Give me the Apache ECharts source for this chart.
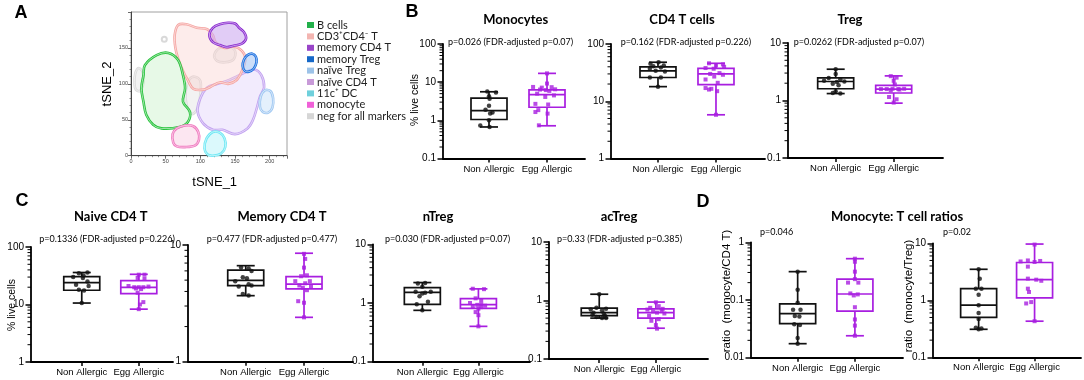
<!DOCTYPE html>
<html><head><meta charset="utf-8">
<script src="https://cdn.jsdelivr.net/npm/echarts@6/dist/echarts.min.js"></script>
<style>html,body{margin:0;padding:0;background:#fff}#c{width:1084px;height:380px}</style>
</head><body><div id="c"></div>
<script>
// ---------- DATA ----------
const GROUPS = ['Non Allergic', 'Egg Allergic'];
const LEGEND_NAMES = ['B cells','CD3⁺CD4⁻ T','memory CD4 T','memory Treg','naïve Treg','naïve CD4 T','11c⁺ DC','monocyte','neg for all markers'];
const PANEL_LETTERS = ['A','B','C','D'];
const PANEL_TITLES = ['Monocytes','CD4 T cells','Treg','Naive CD4 T','Memory CD4 T','nTreg','acTreg','Monocyte: T cell ratios'];
const P_VALUES = ['p=0.026 (FDR-adjusted p=0.07)','p=0.162 (FDR-adjusted p=0.226)','p=0.0262 (FDR-adjusted p=0.07)',
  'p=0.1336 (FDR-adjusted p=0.226)','p=0.477 (FDR-adjusted p=0.477)','p=0.030 (FDR-adjusted p=0.07)','p=0.33 (FDR-adjusted p=0.385)',
  'p=0.046','p=0.02'];
const Y_NAMES = ['% live cells','% live cells','ratio  (monocyte/CD4 T)','ratio  (monocyte/Treg)'];
const TSNE_NAMES = ['tSNE_1','tSNE_2'];

// tSNE cluster outlines (tSNE_1, tSNE_2)
const OUTLINE_NEG1 = [[5,100],[6,114],[11,122],[17,116],[18,102],[13,90],[7,92]];
const OUTLINE_NEG2 = [[80,72],[79,90],[84,106],[92,110],[100,104],[100,85],[96,66],[88,58]];
const OUTLINE_NEG3 = [[120,140],[128,150],[140,152],[150,146],[148,134],[136,130],[124,132]];
const NEG_DOT = [[48,162]];
const OUTLINE_NCD4 = [[96,62],[100,80],[110,95],[125,100],[138,104],[152,110],[165,116],[178,120],[188,112],[192,95],[186,82],[182,68],[176,50],[168,38],[150,30],[132,36],[118,36],[104,45]];
const OUTLINE_CD3 = [[63,168],[68,182],[80,183],[95,178],[110,176],[118,168],[122,158],[135,150],[148,152],[160,146],[165,135],[160,118],[152,105],[140,100],[128,102],[115,96],[105,92],[90,93],[82,105],[75,118],[68,135],[64,150]];
const OUTLINE_B = [[20,126],[37,140],[54,143],[68,133],[75,112],[78,94],[75,75],[85,61],[82,47],[70,40],[44,38],[32,43],[22,57],[18,75],[15,94],[18,112]];
const OUTLINE_MONO = [[61,18],[60,30],[66,38],[78,42],[90,41],[97,33],[98,22],[92,14],[78,12],[66,13]];
const OUTLINE_DC = [[106,10],[109,24],[118,33],[128,32],[135,24],[136,12],[130,3],[118,0],[110,2]];
const OUTLINE_MCD4 = [[113,168],[118,178],[128,183],[140,185],[150,184],[156,178],[163,172],[166,163],[160,156],[148,153],[138,151],[128,154],[118,158]];
const OUTLINE_MTREG = [[161,125],[163,134],[168,140],[175,142],[180,138],[181,130],[177,121],[170,117],[164,118]];
const OUTLINE_NTREG = [[186,68],[187,82],[193,91],[201,90],[205,80],[204,67],[198,60],[190,61]];
const CLUSTER_PCT = ['26.9','22.8','5.04','1.1','28.8','1.9','6.18','2.53'];
const CLUSTER_PCT_POS = [[51,84],[101,124],[162,177],[187,145],[144,64],[195,72],[80,20],[120,10]];

// box summaries [min, q1, median, q3, max] : [Non Allergic, Egg Allergic]
const MONO_BOX = [[0.67,1.05,1.8,3.8,5.6],[0.72,2.2,4.7,6.3,17]];
const CD4_BOX = [[18,26,34,40,48],[5.8,19.5,30,37.5,46]];
const TREG_BOX = [[1.32,1.6,2.14,2.48,3.5],[0.9,1.35,1.58,1.83,2.68]];
const NAIVE_BOX = [[10.6,17.7,24,30.5,36],[8.3,15.5,19.8,26,33.5]];
const MEM_BOX = [[3.68,4.48,4.98,6.1,6.65],[2.4,4.2,4.63,5.35,8.5]];
const NTREG_BOX = [[0.75,0.95,1.52,1.83,2.23],[0.4,0.81,0.94,1.19,1.74]];
const ACTREG_BOX = [[0.5,0.55,0.62,0.74,1.28],[0.336,0.5,0.62,0.72,0.94]];
const RCD4_BOX = [[0.0175,0.039,0.058,0.086,0.31],[0.024,0.064,0.127,0.23,0.52]];
const RTREG_BOX = [[0.31,0.5,0.82,1.6,3.5],[0.43,1.1,2.3,4.6,9.7]];

// individual points [jitter offset, value]
const MONO_NA = [[-0.03,5.7],[0.12,5.4],[0,4.3],[0.01,3.7],[0,2.4],[-0.06,1.9],[0.06,1.6],[0.02,1.5],[0,1.0],[-0.15,0.73],[0.01,0.67]];
const MONO_EA = [[0,17],[0,9.2],[-0.24,7.5],[-0.09,7.2],[0.08,7.4],[0.14,6.5],[-0.12,6.4],[-0.02,6.2],[0.04,5.9],[-0.17,5.0],[0.12,4.5],[-0.03,4.1],[-0.2,2.7],[0.02,2.6],[-0.15,1.85],[-0.2,1.65],[0.01,1.5],[-0.14,0.74]];
const CD4_NA = [[0.01,48],[-0.13,45],[-0.08,41],[0.1,42],[0.05,39],[-0.14,37],[-0.04,34],[0.12,33],[-0.14,26],[0.05,26],[0,18]];
const CD4_EA = [[-0.12,46],[0.12,44],[0,42],[0.14,40],[-0.18,38],[-0.04,37],[0.06,31],[-0.1,30],[0.12,29],[-0.03,27],[-0.18,24],[0.03,21],[-0.18,17],[-0.08,16.5],[-0.12,16],[0.02,15],[0,5.8]];
const TREG_NA = [[0,3.5],[0,2.9],[-0.12,2.45],[0.08,2.35],[-0.2,2.2],[0.15,2.15],[0.02,2.1],[-0.05,1.95],[0.05,1.85],[0,1.45],[-0.05,1.35],[0.08,1.33]];
const TREG_EA = [[-0.05,2.65],[0.05,2.5],[0,2.2],[0.02,1.9],[-0.22,1.58],[-0.12,1.58],[-0.02,1.6],[0.08,1.58],[0.18,1.6],[-0.05,1.5],[0.1,1.55],[-0.08,1.15],[0.05,1.05],[0,0.92]];
const NAIVE_NA = [[-0.05,35],[0.1,36],[0.03,32],[-0.15,30],[0.02,29],[0.1,25],[-0.1,22],[0.12,21],[-0.05,18],[0.04,17.5],[0,10.6]];
const NAIVE_EA = [[0,33],[0.1,33],[-0.02,29],[0.1,28],[-0.18,21],[-0.08,20],[0,20],[0.08,20],[0.17,20.5],[-0.05,19],[0.04,18.5],[-0.02,16],[0.08,11],[0.02,10],[0,8.3]];
const MEM_NA = [[-0.08,6.4],[0.05,6.3],[0.1,6.0],[-0.05,5.3],[0.02,5.2],[-0.18,4.9],[0.05,4.6],[0.1,4.5],[-0.12,4.4],[-0.05,3.8],[0.05,3.7]];
const MEM_EA = [[0,8.4],[0.02,7.6],[0,6.4],[-0.05,5.4],[0.05,5.5],[-0.15,4.9],[0.1,4.9],[0.02,4.7],[-0.08,4.5],[0.12,4.4],[-0.02,4.3],[0.05,4.1],[-0.1,3.3],[0,3.2],[0,2.4]];
const NTREG_NA = [[0.05,2.2],[-0.08,2.15],[0,1.9],[-0.12,1.55],[0.05,1.5],[0.15,1.55],[0,1.45],[-0.05,1.3],[0.1,1.05],[-0.1,0.95],[0,0.75]];
const NTREG_EA = [[-0.1,1.75],[0.1,1.72],[-0.05,1.2],[0.05,1.1],[-0.15,1.0],[0.05,0.95],[-0.02,0.93],[0.12,0.9],[-0.1,0.88],[0.05,0.85],[0,0.8],[-0.05,0.7],[0,0.62],[0,0.4]];
const ACTREG_NA = [[0,1.28],[-0.05,0.75],[0.12,0.72],[-0.15,0.7],[0.05,0.68],[-0.1,0.62],[0.08,0.6],[-0.12,0.57],[0.1,0.55],[-0.05,0.52],[0.05,0.5],[0.12,0.5]];
const ACTREG_EA = [[0,0.93],[0.05,0.8],[-0.1,0.75],[0.12,0.72],[-0.15,0.7],[0.1,0.68],[-0.05,0.65],[0.02,0.62],[0.15,0.6],[-0.12,0.55],[0.05,0.48],[-0.08,0.45],[0,0.38],[0.02,0.33]];
const RCD4_NA = [[0,0.31],[0,0.15],[0,0.09],[-0.08,0.068],[0.05,0.068],[-0.05,0.053],[0.03,0.052],[-0.06,0.038],[0.04,0.037],[0,0.022],[0,0.0175]];
const RCD4_EA = [[0,0.52],[0,0.46],[0,0.31],[0,0.23],[-0.12,0.2],[0.06,0.2],[-0.08,0.13],[0.05,0.125],[-0.02,0.12],[0,0.075],[0,0.046],[0,0.036],[0,0.024]];
const RTREG_NA = [[0,3.5],[0.02,2.4],[-0.05,1.6],[0.05,1.6],[0,1.25],[0,0.82],[0,0.6],[0,0.47],[-0.05,0.33],[0.05,0.32],[0,0.31]];
const RTREG_EA = [[0,9.5],[-0.25,4.8],[-0.12,5.0],[0,4.7],[0.1,4.9],[-0.12,3.9],[-0.12,2.4],[0.03,2.3],[0.12,2.2],[-0.12,1.6],[-0.1,1.4],[-0.15,0.88],[-0.06,0.93],[0,0.43]];

// ---------- LAYOUT / STYLE ----------
const PURPLE = '#a81ee0', BLACK = '#111';
const AXF = '"Liberation Sans", Arial, sans-serif';
const PLOTS = [
  {box:MONO_BOX, na:MONO_NA, ea:MONO_EA, g:{left:443,top:44,width:142,height:114.5}, x:[0.207,2.655], y:[0.1,100]},
  {box:CD4_BOX, na:CD4_NA, ea:CD4_EA, g:{left:611,top:44,width:154,height:114.5}, x:[0.19,2.845], y:[1,100]},
  {box:TREG_BOX, na:TREG_NA, ea:TREG_EA, g:{left:788,top:43,width:155,height:115}, x:[0.178,2.85], y:[0.1,10]},
  {box:NAIVE_BOX, na:NAIVE_NA, ea:NAIVE_EA, g:{left:31,top:247,width:142,height:115}, x:[0.11,2.6], y:[1,100]},
  {box:MEM_BOX, na:MEM_NA, ea:MEM_EA, g:{left:188,top:245,width:165,height:116.7}, x:[0.01,2.84], y:[1,10]},
  {box:NTREG_BOX, na:NTREG_NA, ea:NTREG_EA, g:{left:373,top:244.3,width:157,height:117.4}, x:[0.12,2.92], y:[0.1,10]},
  {box:ACTREG_BOX, na:ACTREG_NA, ea:ACTREG_EA, g:{left:549,top:242,width:159,height:117}, x:[0.113,2.92], y:[0.1,10]},
  {box:RCD4_BOX, na:RCD4_NA, ea:RCD4_EA, g:{left:751,top:242.3,width:152,height:115.4}, x:[0.185,2.84], y:[0.01,1]},
  {box:RTREG_BOX, na:RTREG_NA, ea:RTREG_EA, g:{left:933,top:243.3,width:148,height:114}, x:[0.184,2.83], y:[0.1,10]}
];

const grids = [], xAxes = [], yAxes = [], series = [];

// ----- panel A (tSNE) -----
grids.push({left:131, top:12, width:156, height:143.7, show:true, borderColor:'#a0a0a0', borderWidth:1});
const tsneAxis = (gi, max) => ({gridIndex:gi, type:'value', min:0, max, interval:50,
  axisLine:{show:true, onZero:false, lineStyle:{color:'#444', width:1}},
  axisTick:{show:true, length:3, lineStyle:{color:'#444', width:0.8}},
  minorTick:{show:true, splitNumber:5, length:1.5, lineStyle:{color:'#444', width:0.6}},
  axisLabel:{fontSize:5.5, color:'#444', margin:3, showMaxLabel:false, fontFamily:AXF},
  splitLine:{show:false}});
xAxes.push(tsneAxis(0, 225));
yAxes.push(tsneAxis(0, 200));

const LEG_COL = ['#22b04a','#f3b5b1','#9944c8','#1668c8','#9dc3e8','#c89ad8','#6fd0dc','#f060d8','#d6d6d6'];
function cluster(nameIdx, pts, stroke, fill) {
  return {type:'custom', name:LEGEND_NAMES[nameIdx], xAxisIndex:0, yAxisIndex:0, data:pts, encode:{x:0,y:1}, silent:true,
    itemStyle:{color:LEG_COL[nameIdx]},
    renderItem(params, api) {
      if (params.dataIndex !== 0) return null;
      const P = pts.map(p => api.coord(p));
      return {type:'group', children:[
        {type:'polygon', shape:{points:P, smooth:0.35}, style:{fill, stroke, lineWidth:2.6}},
        {type:'polygon', shape:{points:P, smooth:0.35}, style:{fill:'none', stroke:'rgba(255,255,255,0.7)', lineWidth:0.8}}
      ]};
    }};
}
series.push(cluster(8, OUTLINE_NEG1, '#dadada', '#f2f2f2'));
series.push(cluster(8, OUTLINE_NEG2, '#dadada', '#f2f2f2'));
series.push(cluster(8, OUTLINE_NEG3, '#dadada', '#f2f2f2'));
series.push({type:'scatter', name:LEGEND_NAMES[8], xAxisIndex:0, yAxisIndex:0, data:NEG_DOT, symbol:'emptyCircle', symbolSize:5, itemStyle:{color:'#d0d0d0', borderWidth:1.5}, silent:true});
series.push(cluster(5, OUTLINE_NCD4, '#c2a2f0', 'rgba(222,204,250,0.4)'));
series.push(cluster(1, OUTLINE_CD3, '#f5a5a2', 'rgba(250,208,204,0.4)'));
series.push(cluster(0, OUTLINE_B, '#25c23a', 'rgba(195,240,195,0.4)'));
series.push(cluster(7, OUTLINE_MONO, '#f07ac0', 'rgba(250,205,228,0.5)'));
series.push(cluster(6, OUTLINE_DC, '#6ee8f4', 'rgba(195,245,250,0.6)'));
series.push(cluster(2, OUTLINE_MCD4, '#8a2bd0', 'rgba(205,170,240,0.6)'));
series.push(cluster(3, OUTLINE_MTREG, '#1a6fe0', 'rgba(170,200,245,0.6)'));
series.push(cluster(4, OUTLINE_NTREG, '#a0c8f2', 'rgba(210,230,250,0.6)'));
series.push({type:'scatter', xAxisIndex:0, yAxisIndex:0, silent:true, symbolSize:1, itemStyle:{opacity:0}, z:5,
  data: CLUSTER_PCT.map((t,i) => ({value:CLUSTER_PCT_POS[i], name:t})),
  label:{show:true, position:'inside', formatter:p => p.name, fontSize:10.5, color:'#111', fontFamily:'Lato'}});

// ----- box plot panels -----
function boxSeries(gi, box) {
  return {type:'custom', xAxisIndex:gi, yAxisIndex:gi, silent:true, z:2,
    data: box.map((b,i) => [i+1].concat(b)), encode:{x:0, y:[1,2,3,4,5]},
    renderItem(params, api) {
      const c = params.dataIndex === 0 ? BLACK : PURPLE;
      const x = api.value(0);
      const P = [1,2,3,4,5].map(k => api.coord([x, api.value(k)]));
      const cx = P[0][0], HW = 18, CW = 9;
      const st = {stroke:c, lineWidth:1.7, fill:'none'};
      return {type:'group', children:[
        {type:'line', shape:{x1:cx,y1:P[0][1],x2:cx,y2:P[1][1]}, style:st},
        {type:'line', shape:{x1:cx,y1:P[3][1],x2:cx,y2:P[4][1]}, style:st},
        {type:'line', shape:{x1:cx-CW,y1:P[0][1],x2:cx+CW,y2:P[0][1]}, style:st},
        {type:'line', shape:{x1:cx-CW,y1:P[4][1],x2:cx+CW,y2:P[4][1]}, style:st},
        {type:'rect', shape:{x:cx-HW,y:P[3][1],width:2*HW,height:P[1][1]-P[3][1]}, style:st},
        {type:'line', shape:{x1:cx-HW,y1:P[2][1],x2:cx+HW,y2:P[2][1]}, style:st}
      ]};
    }};
}
function minorTicks(gi, xmin, ymin, ymax) {
  const vals = [];
  for (let d = ymin; d < ymax * 0.999; d *= 10) for (let k = 2; k <= 9; k++) vals.push([xmin, k * d]);
  return {type:'custom', xAxisIndex:gi, yAxisIndex:gi, silent:true, data:vals, encode:{x:0,y:1},
    renderItem(params, api) {
      const p = api.coord([api.value(0), api.value(1)]);
      return {type:'line', shape:{x1:p[0]-3.5,y1:p[1],x2:p[0],y2:p[1]}, style:{stroke:'#000', lineWidth:1}};
    }};
}
PLOTS.forEach((pl, i) => {
  const gi = i + 1;
  grids.push(Object.assign({}, pl.g));
  xAxes.push({gridIndex:gi, type:'value', min:pl.x[0], max:pl.x[1],
    axisLine:{show:true, onZero:false, lineStyle:{color:'#000', width:1.8}},
    axisTick:{show:true, customValues:[1,2], length:4, lineStyle:{color:'#000', width:1.5}},
    axisLabel:{show:true, customValues:[1,2], formatter:v => GROUPS[Math.round(v)-1], fontSize:9.5, color:'#000', margin:5.5, fontFamily:AXF, hideOverlap:false},
    splitLine:{show:false}});
  yAxes.push({gridIndex:gi, type:'log', logBase:10, min:pl.y[0], max:pl.y[1],
    axisLine:{show:true, onZero:false, lineStyle:{color:'#000', width:1.8}},
    axisTick:{show:true, length:5.5, lineStyle:{color:'#000', width:1.5}},
    axisLabel:{fontSize:10, color:'#000', margin:7, fontFamily:AXF},
    splitLine:{show:false}});
  series.push(minorTicks(gi, pl.x[0], pl.y[0], pl.y[1]));
  series.push(boxSeries(gi, pl.box));
  series.push({type:'scatter', xAxisIndex:gi, yAxisIndex:gi, silent:true, z:3, symbol:'circle', symbolSize:4.5,
    itemStyle:{color:BLACK}, data: pl.na.map(p => [1 + p[0], p[1]])});
  series.push({type:'scatter', xAxisIndex:gi, yAxisIndex:gi, silent:true, z:3, symbol:'rect', symbolSize:4,
    itemStyle:{color:PURPLE}, data: pl.ea.map(p => [2 + p[0], p[1]])});
});

// ----- texts -----
const T = [];
function txt(text, x, y, font, align, rot) {
  T.push({type:'text', x, y, rotation: rot ? Math.PI/2 : 0, silent:true, z:10,
    style:{text, font, fill:'#000', align:align||'center', textAlign:align||'center', verticalAlign:'middle', textVerticalAlign:'middle'}});
}
const LET_F = 'bold 18px ' + AXF, TIT_F = 'bold 13px Lato', P_F = '9px Lato';
[[21,13],[412,12],[22,201],[703,202]].forEach((p,i) => txt(PANEL_LETTERS[i], p[0], p[1], LET_F));
[[515.7,20],[682,20],[850,20],[110.7,216.7],[282,216.7],[438,217],[619,217],[897,216.7]].forEach((p,i) => txt(PANEL_TITLES[i], p[0], p[1], TIT_F));
[[510.5,42],[686,42],[859,42],[107,239.3],[272,239.3],[447.5,239.3],[619.5,239.3]].forEach((p,i) => txt(P_VALUES[i], p[0], p[1], P_F));
txt(P_VALUES[7], 760, 232.3, P_F, 'left');
txt(P_VALUES[8], 943, 232.5, P_F, 'left');
txt(Y_NAMES[0], 415, 100, '10.5px ' + AXF, 'center', true);
txt(Y_NAMES[1], 12, 305, '10.5px ' + AXF, 'center', true);
txt(Y_NAMES[2], 727, 291, '11.5px ' + AXF, 'center', true);
txt(Y_NAMES[3], 909, 296, '11.5px ' + AXF, 'center', true);
txt(TSNE_NAMES[0], 214.7, 182.7, '13px ' + AXF);
txt(TSNE_NAMES[1], 107, 84, '13px ' + AXF, 'center', true);

const chart = echarts.init(document.getElementById('c'), null, {renderer:'canvas', width:1084, height:380});
chart.setOption({
  animation:false,
  backgroundColor:'#fff',
  legend:{data: LEGEND_NAMES.map((n,i) => ({name:n, itemStyle:{color:LEG_COL[i]}})), orient:'vertical', left:307, top:19.5,
    itemWidth:7, itemHeight:6, itemGap:0.4, icon:'rect', selectedMode:false, padding:0,
    textStyle:{fontFamily:'Lato', fontSize:11, color:'#222', lineHeight:10, padding:[0,0,0,-2]}},
  grid: grids, xAxis: xAxes, yAxis: yAxes, series,
  graphic: T
});
</script></body></html>
